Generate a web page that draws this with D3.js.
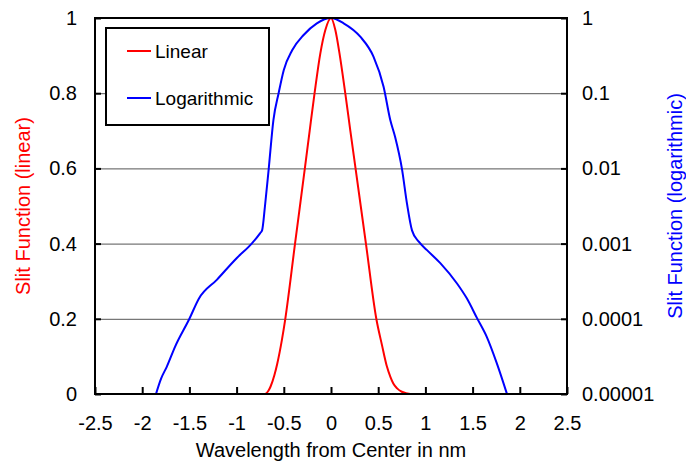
<!DOCTYPE html>
<html>
<head>
<meta charset="utf-8">
<script src="https://cdn.jsdelivr.net/npm/d3@7"></script>
<style>
  body { margin: 0; background: #fff; }
  text { font-family: Arial, 'Liberation Sans', sans-serif; }
</style>
</head>
<body>
<div id="chart"></div>
<script>
  // linear slit function (left axis)
  const linX = [-2.0, -0.70, -0.66, -0.64, -0.60, -0.57, -0.52, -0.484, -0.381, -0.277, -0.226, -0.174, -0.113, -0.06, 0,
                0.046, 0.09, 0.151, 0.205, 0.26, 0.37, 0.48, 0.54, 0.59, 0.63, 0.66, 0.70, 0.75, 0.84, 2.0];
  const linY = [0, 0, 0.01, 0.02, 0.05, 0.08, 0.144, 0.20, 0.40, 0.60, 0.70, 0.80, 0.906, 0.968, 1,
                0.968, 0.906, 0.80, 0.70, 0.60, 0.40, 0.20, 0.13, 0.075, 0.045, 0.028, 0.015, 0.006, 0, 0];

  // logarithmic slit function (right axis)
  const logX = [-1.854, -1.80, -1.74, -1.65, -1.50, -1.40, -1.21, -1.00, -0.84, -0.75, -0.73, -0.70, -0.66, -0.61, -0.555, -0.50, -0.41, -0.29, -0.15, 0,
                0.134, 0.31, 0.45, 0.557, 0.628, 0.68, 0.752, 0.805, 0.858, 0.93, 1.017, 1.158, 1.335, 1.44, 1.547, 1.65, 1.756, 1.864];
  const logY = [1e-5, 1.6e-5, 2.3e-5, 4.3e-5, 1e-4, 1.85e-4, 3.3e-4, 6.4e-4, 1e-3, 1.38e-3, 1.5e-3, 3.1e-3, 9.8e-3, 0.044, 0.1, 0.204, 0.375, 0.594, 0.85, 1,
                0.85, 0.564, 0.306, 0.122, 0.044, 0.026, 0.0098, 3.4e-3, 1.5e-3, 1.06e-3, 8.2e-4, 5.5e-4, 2.95e-4, 1.86e-4, 1.02e-4, 5.75e-5, 2.57e-5, 1e-5];

  const xTicks = [-2.5, -2, -1.5, -1, -0.5, 0, 0.5, 1, 1.5, 2, 2.5];
  const leftTicks = [0, 0.2, 0.4, 0.6, 0.8, 1];
  const rightTicks = [1e-5, 1e-4, 1e-3, 1e-2, 1e-1, 1];
  const rightTickLabels = ['0.00001', '0.0001', '0.001', '0.01', '0.1', '1'];
  const seriesNames = ['Linear', 'Logarithmic'];
  const seriesColors = ['#ff0000', '#0000ff'];

  const width = 686;
  const height = 464;
  const margin = { top: 18, right: 119, bottom: 70, left: 95 };
  const innerW = width - margin.left - margin.right;
  const innerH = height - margin.top - margin.bottom;
  const fontSize = 20;

  const svg = d3.select('#chart')
    .append('svg')
    .attr('width', width)
    .attr('height', height);

  const g = svg.append('g')
    .attr('transform', 'translate(' + margin.left + ',' + margin.top + ')');

  const xScale = d3.scaleLinear().domain([-2.5, 2.5]).range([0, innerW]);
  const yLin = d3.scaleLinear().domain([0, 1]).range([innerH, 0]);
  const yLog = d3.scaleLog().domain([1e-5, 1]).range([innerH, 0]);

  // gridlines
  g.append('g')
    .attr('class', 'grid')
    .call(d3.axisLeft(yLin).tickValues(leftTicks).tickSize(-innerW).tickFormat(''))
    .call(s => s.select('.domain').remove())
    .call(s => s.selectAll('line').attr('stroke', '#555').attr('stroke-width', 1));

  // curves
  const linLine = d3.line()
    .x((d, i) => xScale(linX[i]))
    .y(d => yLin(d))
    .curve(d3.curveMonotoneX);

  const logLine = d3.line()
    .x((d, i) => xScale(logX[i]))
    .y(d => yLog(d))
    .curve(d3.curveMonotoneX);

  g.append('path')
    .datum(linY)
    .attr('fill', 'none')
    .attr('stroke', seriesColors[0])
    .attr('stroke-width', 2)
    .attr('d', linLine);

  g.append('path')
    .datum(logY)
    .attr('fill', 'none')
    .attr('stroke', seriesColors[1])
    .attr('stroke-width', 2)
    .attr('d', logLine);

  // axes
  const styleAxis = (s) => {
    s.select('.domain').remove();
    s.selectAll('.tick line').attr('stroke', '#000').attr('stroke-width', 2);
    s.selectAll('.tick text').attr('fill', '#000').style('font-size', fontSize + 'px');
  };

  g.append('g')
    .attr('transform', 'translate(0,' + innerH + ')')
    .call(d3.axisBottom(xScale).tickValues(xTicks).tickSize(-7).tickPadding(22).tickFormat(d => String(d)))
    .call(styleAxis);

  g.append('g')
    .call(d3.axisLeft(yLin).tickValues(leftTicks).tickSize(-6).tickPadding(18).tickFormat(d => String(d)))
    .call(styleAxis);

  g.append('g')
    .attr('transform', 'translate(' + innerW + ',0)')
    .call(d3.axisRight(yLog).tickValues(rightTicks).tickSize(-6).tickPadding(15)
      .tickFormat((d, i) => rightTickLabels[i]))
    .call(styleAxis);

  // frame
  g.append('rect')
    .attr('width', innerW)
    .attr('height', innerH)
    .attr('fill', 'none')
    .attr('stroke', '#000')
    .attr('stroke-width', 2);

  // axis titles
  svg.append('text')
    .attr('x', margin.left + innerW / 2)
    .attr('y', 457)
    .attr('text-anchor', 'middle')
    .style('font-size', fontSize + 'px')
    .text('Wavelength from Center in nm');

  svg.append('text')
    .attr('transform', 'translate(30,' + (margin.top + innerH / 2) + ') rotate(-90)')
    .attr('text-anchor', 'middle')
    .attr('fill', seriesColors[0])
    .style('font-size', fontSize + 'px')
    .text('Slit Function (linear)');

  svg.append('text')
    .attr('transform', 'translate(682,' + (margin.top + innerH / 2) + ') rotate(-90)')
    .attr('text-anchor', 'middle')
    .attr('fill', seriesColors[1])
    .style('font-size', fontSize + 'px')
    .text('Slit Function (logarithmic)');

  // legend
  const legend = svg.append('g').attr('transform', 'translate(106,28)');
  legend.append('rect')
    .attr('width', 163)
    .attr('height', 97)
    .attr('fill', '#fff')
    .attr('stroke', '#000')
    .attr('stroke-width', 2);

  seriesNames.forEach((name, i) => {
    const yy = 23 + i * 47;
    legend.append('line')
      .attr('x1', 21).attr('x2', 45)
      .attr('y1', yy).attr('y2', yy)
      .attr('stroke', seriesColors[i])
      .attr('stroke-width', 2);
    legend.append('text')
      .attr('x', 49)
      .attr('y', yy)
      .attr('dy', '0.35em')
      .style('font-size', (fontSize - 1) + 'px')
      .text(name);
  });
</script>
</body>
</html>
